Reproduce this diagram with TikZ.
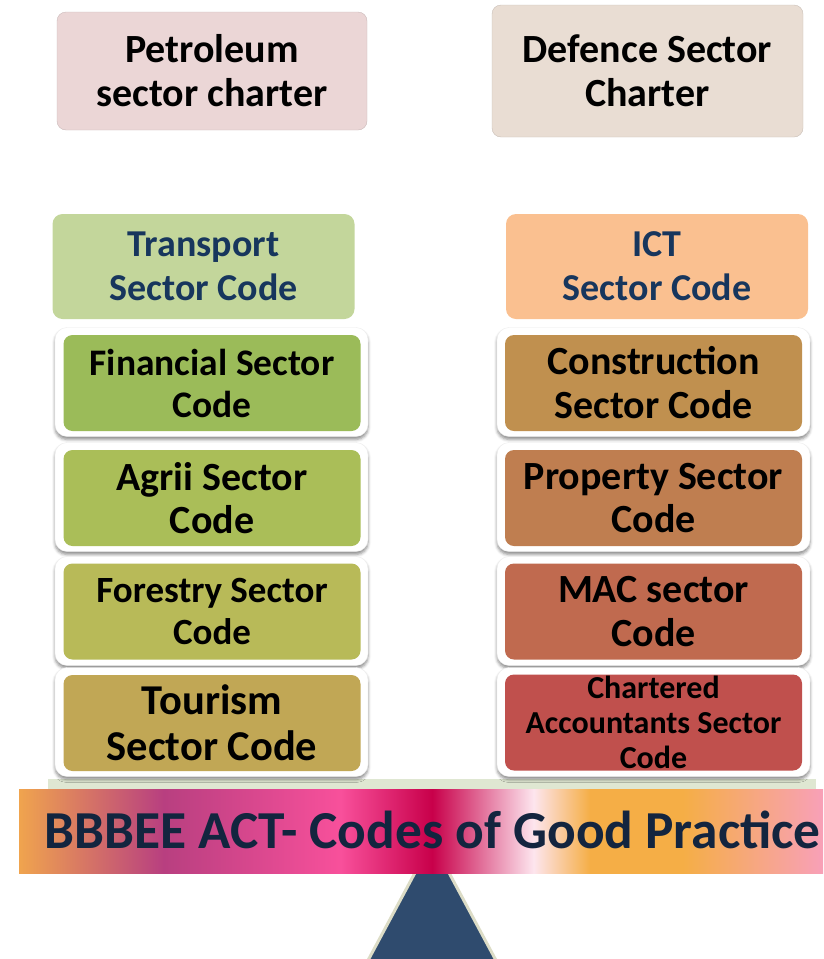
\documentclass[tikz,border=0pt]{standalone}
\usepackage{fontspec}
\setmainfont{Carlito}
\usetikzlibrary{shadows.blur}
\definecolor{cNavy}{HTML}{17365D}
\definecolor{cBar}{HTML}{13253F}
\definecolor{cPetro}{HTML}{EBD6D6}
\definecolor{cDef}{HTML}{E9DDD3}
\definecolor{cTrans}{HTML}{C3D69B}
\definecolor{cIct}{HTML}{FAC090}
\definecolor{cFin}{HTML}{9BBB59}
\definecolor{cAgr}{HTML}{AABE58}
\definecolor{cFor}{HTML}{B8BA58}
\definecolor{cTour}{HTML}{C1A755}
\definecolor{cCon}{HTML}{C0904F}
\definecolor{cProp}{HTML}{BF7E50}
\definecolor{cMac}{HTML}{C06A4F}
\definecolor{cCa}{HTML}{C0504D}
\definecolor{cPlate}{HTML}{DFE7D2}
\definecolor{cPivot}{HTML}{2F4B6E}
\definecolor{cPivotEdge}{HTML}{DCDCC6}
% colours along the beam
\definecolor{bOrange}{HTML}{F0A44E}
\definecolor{bPlum}{HTML}{B83F80}
\definecolor{bPink}{HTML}{F8509B}
\definecolor{bCrimson}{HTML}{C8004A}
\definecolor{bBlush}{HTML}{FDE5EE}
\definecolor{bAmber}{HTML}{F5AE46}
\definecolor{bRose}{HTML}{F8A0B8}
% banded colours of the beam, stretched over its width (25bp..75bp)
\pgfdeclarehorizontalshading{beam}{100bp}{%
  color(0bp)=(bOrange);
  color(25bp)=(bOrange);
  color(34bp)=(bPlum);
  color(45bp)=(bPink);
  color(50.7bp)=(bCrimson);
  color(57bp)=(bBlush);
  color(60.5bp)=(bAmber);
  color(66.3bp)=(bAmber);
  color(75bp)=(bRose);
  color(100bp)=(bRose)}
\tikzset{
    charter/.style={rounded corners=9pt, draw=#1!85!black!95, fill=#1, align=center,
        font=\fontsize{40}{44}\selectfont\bfseries, inner sep=0pt},
    sector/.style={rounded corners=10pt, fill=#1, align=center, text=cNavy,
        font=\fontsize{38}{44}\selectfont\bfseries, inner sep=0pt,
        minimum width=302pt, minimum height=105pt},
    frame/.style={rounded corners=12pt, fill=white, draw=black!7, inner sep=0pt,
        minimum width=313pt, minimum height=109pt,
        blur shadow={shadow xshift=0pt, shadow yshift=-3pt, shadow blur radius=3pt, shadow opacity=45}},
    tile/.style={rounded corners=9pt, fill=#1, align=center, inner sep=0pt,
        minimum width=297pt, minimum height=96pt}
}
\begin{document}
\begin{tikzpicture}[x=1pt,y=-1pt]
\useasboundingbox (0,0) rectangle (823,959);
% charters on top
\node[charter=cPetro, minimum width=310pt, minimum height=118pt] (petro) at (212,71) {Petroleum\\sector charter};
\node[charter=cDef, minimum width=311pt, minimum height=132pt] (def) at (647.5,71) {Defence Sector\\Charter};
% sector codes not yet stacked
\node[sector=cTrans] (trans) at (203.5,266.5) {Transport\\Sector Code};
\node[sector=cIct] (ict) at (657,266.5) {ICT\\Sector Code};
% plate under the two stacks
\fill[cPlate] (48,779) rectangle (816,790);
% left stack
\node[frame] (finF) at (211.5,382) {};
\node[tile=cFin, font=\fontsize{37.5}{42}\selectfont\bfseries] (fin) at (212,383) {Financial Sector\\Code};
\node[frame] (agrF) at (211.5,497) {};
\node[tile=cAgr, font=\fontsize{40}{43}\selectfont\bfseries] (agr) at (212,498) {Agrii Sector\\Code};
\node[frame] (forF) at (211.5,611) {};
\node[tile=cFor, font=\fontsize{37}{42}\selectfont\bfseries] (for) at (212,611.5) {Forestry Sector\\Code};
\node[frame] (tourF) at (211.5,722) {};
\node[tile=cTour, font=\fontsize{42.5}{46}\selectfont\bfseries] (tour) at (212,723) {Tourism\\Sector Code};
% right stack
\node[frame] (conF) at (653.5,382) {};
\node[tile=cCon, font=\fontsize{40}{44}\selectfont\bfseries] (con) at (653.5,383) {Construction\\Sector Code};
\node[frame] (propF) at (653.5,497) {};
\node[tile=cProp, font=\fontsize{40}{43}\selectfont\bfseries] (prop) at (653.5,498) {Property Sector\\Code};
\node[frame] (macF) at (653.5,611) {};
\node[tile=cMac, font=\fontsize{40}{44}\selectfont\bfseries] (mac) at (653.5,611.5) {MAC sector\\Code};
\node[frame] (caF) at (653.5,722) {};
\node[tile=cCa, font=\fontsize{32}{35}\selectfont\bfseries] (ca) at (653.5,722.5) {Chartered\\Accountants Sector\\Code};
% pivot
\filldraw[fill=cPivot, draw=cPivotEdge, line width=3pt] (432,841) -- (365,966) -- (499,966) -- cycle;
% beam
\node[shading=beam, minimum width=804pt, minimum height=84pt, inner sep=0pt] (beam) at (421,831) {};
\node[anchor=base, text=cBar, font=\fontsize{53.4}{60}\selectfont\bfseries, inner sep=0pt] (act) at (432.5,848) {BBBEE ACT- Codes of Good Practice};
\end{tikzpicture}
\end{document}
